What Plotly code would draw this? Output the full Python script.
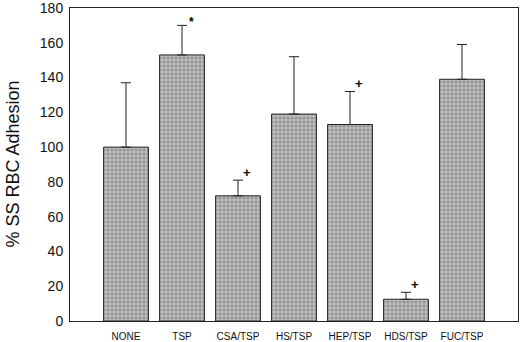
import plotly.graph_objects as go

categories = ["NONE", "TSP", "CSA/TSP", "HS/TSP", "HEP/TSP", "HDS/TSP", "FUC/TSP"]
values = [100, 153, 72, 119, 113, 12.5, 139]
errors = [37, 17, 9, 33, 19, 4, 20]
sig_marks = ["", "*", "+", "", "+", "+", ""]
y_ticks = [0, 20, 40, 60, 80, 100, 120, 140, 160, 180]

xs = list(range(len(categories)))

fig = go.Figure()
fig.add_trace(go.Bar(
    x=xs, y=values, width=0.8,
    marker=dict(
        color="#b0b0b0",
        line=dict(color="#222222", width=1),
        pattern=dict(shape=".", fgcolor="#666666", bgcolor="#bebebe", size=4, solidity=0.45),
    ),
    error_y=dict(type="data", symmetric=False, array=errors, arrayminus=[0] * len(errors),
                 color="#222222", thickness=1, width=5),
    showlegend=False,
))

for i, (m, v, e) in enumerate(zip(sig_marks, values, errors)):
    if m:
        fig.add_annotation(x=i, y=v + e, text="<b>" + m + "</b>", showarrow=False,
                           xanchor="left", yanchor="bottom",
                           xshift=3 if m == "+" else 5, yshift=-2 if m == "+" else -6,
                           font=dict(family="Liberation Sans, Arial", size=13 if m == "+" else 12, color="#000"))

fig.add_annotation(x=0, xref="paper", xshift=-58, y=0.5, yref="paper",
                   text="% SS RBC Adhesion", textangle=-90, showarrow=False,
                   xanchor="center", yanchor="middle",
                   font=dict(family="Liberation Sans, Arial", size=18, color="#111"))

fig.update_layout(
    width=520, height=342,
    margin=dict(l=70, r=2, t=8, b=21, autoexpand=False),
    paper_bgcolor="white", plot_bgcolor="white",
    font=dict(family="Liberation Sans, Arial", color="#111"),
)
fig.update_xaxes(
    range=[-1, 7], tickvals=xs, ticktext=categories, automargin=False,
    tickfont=dict(size=10), showgrid=False, zeroline=False, ticklabelstandoff=6,
    showline=True, linecolor="#222", linewidth=1, mirror=True, ticks="",
)
fig.update_yaxes(
    range=[0, 180], tickvals=y_ticks, tickfont=dict(size=14), automargin=False,
    showgrid=False, zeroline=False, showline=True, linecolor="#222", linewidth=1,
    mirror=True, ticks="", ticklabeloverflow="allow", ticklabelstandoff=3,
)

fig.write_html("out.html", config={"displayModeBar": False},
               post_script="document.body.style.margin='0';")
